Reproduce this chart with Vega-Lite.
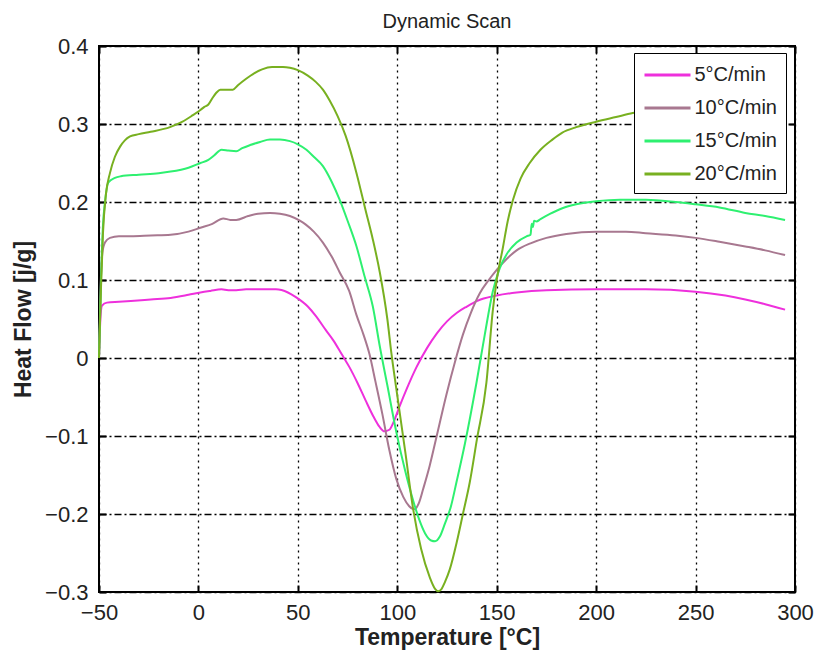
{
"$schema": "https://vega.github.io/schema/vega-lite/v6.json",
"width": 696, "height": 546,
"autosize": {"type": "none"},
"padding": {"left": 99, "top": 46, "right": 22, "bottom": 66},
"background": "white",
"title": {"text": "Dynamic Scan", "fontSize": 20, "font": "Liberation Sans", "fontWeight": "normal", "color": "#222222", "offset": 3},
"config": {
  "view": {"stroke": "black", "strokeWidth": 2},
  "axis": {"labelFont": "Liberation Sans", "titleFont": "Liberation Sans", "labelColor": "#222222", "titleColor": "#222222"}
},
"datasets": {
"c": [
{"r":"5°C/min","t":-50,"h":0},{"r":"5°C/min","t":-49.3,"h":0.05},{"r":"5°C/min","t":-48.5,"h":0.067},{"r":"5°C/min","t":-46,"h":0.071},{"r":"5°C/min","t":-40,"h":0.072},{"r":"5°C/min","t":-34,"h":0.073},{"r":"5°C/min","t":-24,"h":0.075},{"r":"5°C/min","t":-14,"h":0.077},{"r":"5°C/min","t":-5,"h":0.081},{"r":"5°C/min","t":1,"h":0.084},{"r":"5°C/min","t":6,"h":0.086},{"r":"5°C/min","t":11.6,"h":0.088},{"r":"5°C/min","t":15,"h":0.087},{"r":"5°C/min","t":19,"h":0.087},{"r":"5°C/min","t":24,"h":0.088},{"r":"5°C/min","t":29,"h":0.088},{"r":"5°C/min","t":39,"h":0.088},{"r":"5°C/min","t":45,"h":0.084},{"r":"5°C/min","t":49,"h":0.078},{"r":"5°C/min","t":55,"h":0.066},{"r":"5°C/min","t":59,"h":0.054},{"r":"5°C/min","t":64,"h":0.036},{"r":"5°C/min","t":68,"h":0.022},{"r":"5°C/min","t":72,"h":0.005},{"r":"5°C/min","t":76,"h":-0.012},{"r":"5°C/min","t":80,"h":-0.032},{"r":"5°C/min","t":84,"h":-0.054},{"r":"5°C/min","t":88,"h":-0.075},{"r":"5°C/min","t":91,"h":-0.088},{"r":"5°C/min","t":93.5,"h":-0.094},{"r":"5°C/min","t":96,"h":-0.092},{"r":"5°C/min","t":98,"h":-0.083},{"r":"5°C/min","t":101,"h":-0.063},{"r":"5°C/min","t":105,"h":-0.038},{"r":"5°C/min","t":109.6,"h":-0.012},{"r":"5°C/min","t":115,"h":0.013},{"r":"5°C/min","t":120,"h":0.032},{"r":"5°C/min","t":125,"h":0.047},{"r":"5°C/min","t":130,"h":0.058},{"r":"5°C/min","t":135,"h":0.066},{"r":"5°C/min","t":140,"h":0.073},{"r":"5°C/min","t":150,"h":0.08},{"r":"5°C/min","t":160,"h":0.084},{"r":"5°C/min","t":175,"h":0.087},{"r":"5°C/min","t":200,"h":0.088},{"r":"5°C/min","t":225,"h":0.088},{"r":"5°C/min","t":250,"h":0.085},{"r":"5°C/min","t":265,"h":0.08},{"r":"5°C/min","t":275,"h":0.075},{"r":"5°C/min","t":285,"h":0.069},{"r":"5°C/min","t":295,"h":0.062},

{"r":"10°C/min","t":-50,"h":0},{"r":"10°C/min","t":-49.2,"h":0.09},{"r":"10°C/min","t":-48.3,"h":0.135},{"r":"10°C/min","t":-47,"h":0.148},{"r":"10°C/min","t":-44.5,"h":0.154},{"r":"10°C/min","t":-40,"h":0.156},{"r":"10°C/min","t":-34,"h":0.156},{"r":"10°C/min","t":-24,"h":0.157},{"r":"10°C/min","t":-14,"h":0.158},{"r":"10°C/min","t":-5,"h":0.162},{"r":"10°C/min","t":1,"h":0.167},{"r":"10°C/min","t":7,"h":0.172},{"r":"10°C/min","t":12.5,"h":0.179},{"r":"10°C/min","t":16,"h":0.177},{"r":"10°C/min","t":19,"h":0.177},{"r":"10°C/min","t":25,"h":0.182},{"r":"10°C/min","t":30,"h":0.185},{"r":"10°C/min","t":36,"h":0.186},{"r":"10°C/min","t":41,"h":0.185},{"r":"10°C/min","t":46,"h":0.182},{"r":"10°C/min","t":51,"h":0.176},{"r":"10°C/min","t":54,"h":0.171},{"r":"10°C/min","t":58,"h":0.162},{"r":"10°C/min","t":62.6,"h":0.148},{"r":"10°C/min","t":67,"h":0.13},{"r":"10°C/min","t":71,"h":0.11},{"r":"10°C/min","t":75.8,"h":0.086},{"r":"10°C/min","t":79.5,"h":0.055},{"r":"10°C/min","t":83,"h":0.03},{"r":"10°C/min","t":86,"h":0.005},{"r":"10°C/min","t":89,"h":-0.03},{"r":"10°C/min","t":92.5,"h":-0.072},{"r":"10°C/min","t":96,"h":-0.118},{"r":"10°C/min","t":99.5,"h":-0.155},{"r":"10°C/min","t":103,"h":-0.178},{"r":"10°C/min","t":106,"h":-0.19},{"r":"10°C/min","t":108.5,"h":-0.194},{"r":"10°C/min","t":111,"h":-0.185},{"r":"10°C/min","t":113,"h":-0.168},{"r":"10°C/min","t":116.3,"h":-0.138},{"r":"10°C/min","t":120,"h":-0.098},{"r":"10°C/min","t":124.7,"h":-0.047},{"r":"10°C/min","t":129,"h":-0.005},{"r":"10°C/min","t":133,"h":0.03},{"r":"10°C/min","t":137,"h":0.058},{"r":"10°C/min","t":141.5,"h":0.083},{"r":"10°C/min","t":146,"h":0.1},{"r":"10°C/min","t":150,"h":0.113},{"r":"10°C/min","t":155,"h":0.127},{"r":"10°C/min","t":160,"h":0.138},{"r":"10°C/min","t":167,"h":0.147},{"r":"10°C/min","t":175,"h":0.154},{"r":"10°C/min","t":185,"h":0.159},{"r":"10°C/min","t":200,"h":0.162},{"r":"10°C/min","t":215,"h":0.162},{"r":"10°C/min","t":225,"h":0.16},{"r":"10°C/min","t":240,"h":0.157},{"r":"10°C/min","t":250,"h":0.154},{"r":"10°C/min","t":262,"h":0.149},{"r":"10°C/min","t":275,"h":0.143},{"r":"10°C/min","t":285,"h":0.138},{"r":"10°C/min","t":295,"h":0.132},

{"r":"15°C/min","t":-50,"h":0},{"r":"15°C/min","t":-49,"h":0.1},{"r":"15°C/min","t":-48,"h":0.17},{"r":"15°C/min","t":-47,"h":0.2},{"r":"15°C/min","t":-45.3,"h":0.225},{"r":"15°C/min","t":-42,"h":0.231},{"r":"15°C/min","t":-39,"h":0.233},{"r":"15°C/min","t":-30,"h":0.235},{"r":"15°C/min","t":-20,"h":0.237},{"r":"15°C/min","t":-14,"h":0.239},{"r":"15°C/min","t":-5,"h":0.244},{"r":"15°C/min","t":1,"h":0.25},{"r":"15°C/min","t":5,"h":0.254},{"r":"15°C/min","t":8,"h":0.26},{"r":"15°C/min","t":11.6,"h":0.267},{"r":"15°C/min","t":15,"h":0.266},{"r":"15°C/min","t":19,"h":0.265},{"r":"15°C/min","t":22,"h":0.269},{"r":"15°C/min","t":26,"h":0.273},{"r":"15°C/min","t":31,"h":0.277},{"r":"15°C/min","t":36,"h":0.28},{"r":"15°C/min","t":41,"h":0.28},{"r":"15°C/min","t":46,"h":0.278},{"r":"15°C/min","t":50,"h":0.274},{"r":"15°C/min","t":54.3,"h":0.267},{"r":"15°C/min","t":58,"h":0.258},{"r":"15°C/min","t":62.6,"h":0.246},{"r":"15°C/min","t":67,"h":0.226},{"r":"15°C/min","t":71,"h":0.203},{"r":"15°C/min","t":75,"h":0.176},{"r":"15°C/min","t":79.5,"h":0.143},{"r":"15°C/min","t":83.5,"h":0.105},{"r":"15°C/min","t":87.7,"h":0.066},{"r":"15°C/min","t":91.2,"h":0.015},{"r":"15°C/min","t":95,"h":-0.035},{"r":"15°C/min","t":99.6,"h":-0.096},{"r":"15°C/min","t":104,"h":-0.145},{"r":"15°C/min","t":108,"h":-0.183},{"r":"15°C/min","t":111,"h":-0.207},{"r":"15°C/min","t":114,"h":-0.225},{"r":"15°C/min","t":117,"h":-0.234},{"r":"15°C/min","t":119,"h":-0.235},{"r":"15°C/min","t":121.4,"h":-0.229},{"r":"15°C/min","t":124,"h":-0.212},{"r":"15°C/min","t":127,"h":-0.19},{"r":"15°C/min","t":129.7,"h":-0.16},{"r":"15°C/min","t":134,"h":-0.11},{"r":"15°C/min","t":139.8,"h":-0.032},{"r":"15°C/min","t":144,"h":0.03},{"r":"15°C/min","t":148,"h":0.085},{"r":"15°C/min","t":151.5,"h":0.115},{"r":"15°C/min","t":155,"h":0.133},{"r":"15°C/min","t":160,"h":0.148},{"r":"15°C/min","t":165,"h":0.156},{"r":"15°C/min","t":167,"h":0.158},{"r":"15°C/min","t":167.6,"h":0.172},{"r":"15°C/min","t":168.2,"h":0.168},{"r":"15°C/min","t":168.8,"h":0.176},{"r":"15°C/min","t":170,"h":0.175},{"r":"15°C/min","t":172,"h":0.178},{"r":"15°C/min","t":177,"h":0.185},{"r":"15°C/min","t":183,"h":0.192},{"r":"15°C/min","t":190,"h":0.197},{"r":"15°C/min","t":200,"h":0.201},{"r":"15°C/min","t":212,"h":0.203},{"r":"15°C/min","t":225,"h":0.203},{"r":"15°C/min","t":240,"h":0.2},{"r":"15°C/min","t":250,"h":0.197},{"r":"15°C/min","t":262,"h":0.193},{"r":"15°C/min","t":275,"h":0.186},{"r":"15°C/min","t":285,"h":0.182},{"r":"15°C/min","t":295,"h":0.177},

{"r":"20°C/min","t":-50,"h":0},{"r":"20°C/min","t":-49,"h":0.09},{"r":"20°C/min","t":-48,"h":0.16},{"r":"20°C/min","t":-46.5,"h":0.21},{"r":"20°C/min","t":-44.5,"h":0.237},{"r":"20°C/min","t":-42,"h":0.258},{"r":"20°C/min","t":-39.4,"h":0.271},{"r":"20°C/min","t":-37,"h":0.279},{"r":"20°C/min","t":-34.4,"h":0.284},{"r":"20°C/min","t":-30,"h":0.287},{"r":"20°C/min","t":-24,"h":0.29},{"r":"20°C/min","t":-14.3,"h":0.296},{"r":"20°C/min","t":-8,"h":0.303},{"r":"20°C/min","t":-3,"h":0.311},{"r":"20°C/min","t":1,"h":0.318},{"r":"20°C/min","t":3,"h":0.322},{"r":"20°C/min","t":5,"h":0.325},{"r":"20°C/min","t":7,"h":0.333},{"r":"20°C/min","t":9,"h":0.34},{"r":"20°C/min","t":11,"h":0.344},{"r":"20°C/min","t":14,"h":0.344},{"r":"20°C/min","t":17.3,"h":0.344},{"r":"20°C/min","t":20,"h":0.35},{"r":"20°C/min","t":24,"h":0.358},{"r":"20°C/min","t":28,"h":0.365},{"r":"20°C/min","t":32,"h":0.37},{"r":"20°C/min","t":37,"h":0.373},{"r":"20°C/min","t":42.5,"h":0.373},{"r":"20°C/min","t":46,"h":0.372},{"r":"20°C/min","t":50,"h":0.369},{"r":"20°C/min","t":55,"h":0.362},{"r":"20°C/min","t":59,"h":0.354},{"r":"20°C/min","t":62.6,"h":0.344},{"r":"20°C/min","t":66,"h":0.33},{"r":"20°C/min","t":70,"h":0.31},{"r":"20°C/min","t":74,"h":0.285},{"r":"20°C/min","t":79.5,"h":0.237},{"r":"20°C/min","t":84,"h":0.19},{"r":"20°C/min","t":87.7,"h":0.152},{"r":"20°C/min","t":91.2,"h":0.11},{"r":"20°C/min","t":95,"h":0.05},{"r":"20°C/min","t":97,"h":0.007},{"r":"20°C/min","t":99.6,"h":-0.041},{"r":"20°C/min","t":104,"h":-0.12},{"r":"20°C/min","t":108,"h":-0.194},{"r":"20°C/min","t":112,"h":-0.245},{"r":"20°C/min","t":116.3,"h":-0.281},{"r":"20°C/min","t":119,"h":-0.296},{"r":"20°C/min","t":120.5,"h":-0.299},{"r":"20°C/min","t":122,"h":-0.297},{"r":"20°C/min","t":124,"h":-0.287},{"r":"20°C/min","t":126.4,"h":-0.271},{"r":"20°C/min","t":130,"h":-0.235},{"r":"20°C/min","t":133,"h":-0.2},{"r":"20°C/min","t":136.4,"h":-0.16},{"r":"20°C/min","t":140,"h":-0.105},{"r":"20°C/min","t":144.8,"h":-0.032},{"r":"20°C/min","t":148,"h":0.06},{"r":"20°C/min","t":150,"h":0.1},{"r":"20°C/min","t":153,"h":0.14},{"r":"20°C/min","t":155.5,"h":0.175},{"r":"20°C/min","t":158.2,"h":0.203},{"r":"20°C/min","t":162,"h":0.23},{"r":"20°C/min","t":166.6,"h":0.25},{"r":"20°C/min","t":172,"h":0.267},{"r":"20°C/min","t":178,"h":0.28},{"r":"20°C/min","t":183,"h":0.289},{"r":"20°C/min","t":190,"h":0.296},{"r":"20°C/min","t":200,"h":0.303},{"r":"20°C/min","t":210,"h":0.309},{"r":"20°C/min","t":218.4,"h":0.314},{"r":"20°C/min","t":230,"h":0.318},{"r":"20°C/min","t":245,"h":0.322},{"r":"20°C/min","t":260,"h":0.323},{"r":"20°C/min","t":275,"h":0.322},{"r":"20°C/min","t":295,"h":0.318}
]
},
"data": {"name": "c"},
"layer": [
{
 "mark": {"type": "line", "opacity": 0},
 "encoding": {
  "x": {"field": "t", "type": "quantitative", "scale": {"domain": [-50, 300], "nice": false, "zero": false},
        "axis": {"orient": "top", "labels": false, "title": null, "domain": false, "grid": false, "ticks": true, "tickSize": -7, "tickWidth": 2, "tickColor": "black", "values": [-50,0,50,100,150,200,250,300]}},
  "y": {"field": "h", "type": "quantitative", "scale": {"domain": [-0.3, 0.4], "nice": false, "zero": false},
        "axis": {"orient": "right", "labels": false, "title": null, "domain": false, "grid": false, "ticks": true, "tickSize": -7, "tickWidth": 2, "tickColor": "black", "values": [-0.3,-0.2,-0.1,0,0.1,0.2,0.3,0.4]}}
 }
},
{
 "mark": {"type": "line", "strokeWidth": 2, "interpolate": "monotone"},
 "encoding": {
  "x": {"field": "t", "type": "quantitative", "scale": {"domain": [-50, 300], "nice": false, "zero": false},
        "axis": {"orient": "bottom", "title": "Temperature [°C]", "titleFontSize": 23, "titleFontWeight": "bold", "titlePadding": 3,
                 "labelFontSize": 22, "labelPadding": 17, "labelFlush": false, "labelOverlap": false,
                 "values": [-50,0,50,100,150,200,250,300], "domain": false, "ticks": true, "tickSize": -7, "tickWidth": 2, "tickColor": "black",
                 "grid": true, "gridColor": "black", "gridOpacity": 1, "gridWidth": 1.3, "gridDash": [2, 4]}},
  "y": {"field": "h", "type": "quantitative", "scale": {"domain": [-0.3, 0.4], "nice": false, "zero": false},
        "axis": {"orient": "left", "title": "Heat Flow [j/g]", "titleFontSize": 23, "titleFontWeight": "bold", "titlePadding": 9,
                 "labelFontSize": 22, "labelPadding": 18, "labelFlush": false, "labelOverlap": false, "labelExpr": "datum.value == 0 ? '0' : format(datum.value, '.1f')",
                 "values": [-0.3,-0.2,-0.1,0,0.1,0.2,0.3,0.4], "domain": false, "ticks": true, "tickSize": -7, "tickWidth": 2, "tickColor": "black",
                 "grid": true, "gridColor": "black", "gridOpacity": 1, "gridWidth": 1.3, "gridDash": [7, 3, 2, 3]}},
  "color": {"field": "r", "type": "nominal",
            "scale": {"domain": ["5°C/min", "10°C/min", "15°C/min", "20°C/min"], "range": ["#ee30dc", "#a87890", "#2ef070", "#78b020"]},
            "legend": {"title": null, "orient": "none", "legendX": 535, "legendY": 7, "strokeColor": "black", "fillColor": "white", "padding": 9,
                       "symbolType": "M-2,0H2", "symbolSize": 529, "symbolStrokeWidth": 3, "symbolOffset": 11.5, "symbolFillColor": "transparent",
                       "labelFontSize": 20, "labelFont": "Liberation Sans", "labelColor": "#222222",
                       "rowPadding": 10, "labelOffset": 14}}
 }
}
],
"resolve": {"axis": {"x": "independent", "y": "independent"}}
}
